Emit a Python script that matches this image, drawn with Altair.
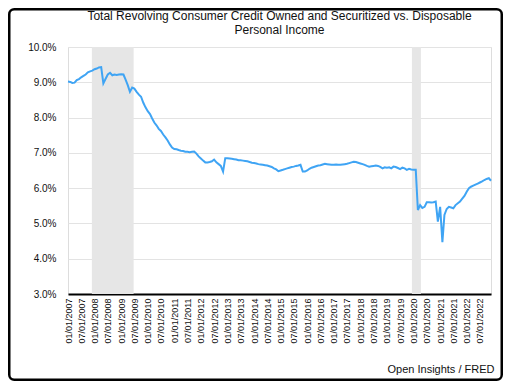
import altair as alt
import pandas as pd

# Ratio (%) of revolving consumer credit to disposable personal income, monthly
v2007 = [9.02, 9.01, 8.98, 8.99, 9.06, 9.09, 9.14, 9.18, 9.22, 9.28, 9.31, 9.33]
v2008 = [9.37, 9.39, 9.42, 9.43, 8.97, 9.10, 9.22, 9.27, 9.20, 9.22, 9.21, 9.22]
v2009 = [9.23, 9.22, 9.08, 8.92, 8.73, 8.85, 8.82, 8.73, 8.65, 8.59, 8.42, 8.29]
v2010 = [8.18, 8.10, 7.98, 7.86, 7.78, 7.68, 7.62, 7.52, 7.44, 7.35, 7.24, 7.15]
v2011 = [7.11, 7.10, 7.08, 7.06, 7.05, 7.03, 7.03, 7.02, 7.03, 7.04, 6.98, 6.90]
v2012 = [6.84, 6.78, 6.73, 6.73, 6.74, 6.76, 6.81, 6.73, 6.68, 6.63, 6.47, 6.85]
v2013 = [6.85, 6.84, 6.83, 6.82, 6.81, 6.79, 6.79, 6.78, 6.77, 6.76, 6.74, 6.72]
v2014 = [6.71, 6.70, 6.68, 6.67, 6.66, 6.65, 6.64, 6.62, 6.60, 6.56, 6.53, 6.48]
v2015 = [6.50, 6.52, 6.54, 6.56, 6.58, 6.60, 6.61, 6.63, 6.64, 6.66, 6.47, 6.47]
v2016 = [6.50, 6.55, 6.58, 6.60, 6.62, 6.64, 6.65, 6.67, 6.69, 6.68, 6.67, 6.66]
v2017 = [6.66, 6.67, 6.66, 6.66, 6.67, 6.68, 6.69, 6.71, 6.73, 6.75, 6.74, 6.72]
v2018 = [6.70, 6.68, 6.66, 6.63, 6.61, 6.62, 6.63, 6.64, 6.63, 6.60, 6.56, 6.59]
v2019 = [6.58, 6.59, 6.56, 6.61, 6.60, 6.57, 6.54, 6.58, 6.56, 6.52, 6.55, 6.53]
v2020 = [6.52, 6.52, 5.38, 5.52, 5.44, 5.47, 5.60, 5.60, 5.59, 5.60, 5.62, 5.05]
v2021 = [5.47, 4.47, 5.24, 5.41, 5.47, 5.45, 5.43, 5.52, 5.57, 5.62, 5.70, 5.78]
v2022 = [5.90, 6.00, 6.04, 6.07, 6.10, 6.13, 6.16, 6.19, 6.23, 6.26, 6.28, 6.21]

years = [v2007, v2008, v2009, v2010, v2011, v2012, v2013, v2014,
         v2015, v2016, v2017, v2018, v2019, v2020, v2021, v2022]
values = [v for yr in years for v in yr]
dates = pd.date_range("2007-01-01", periods=len(values), freq="MS").strftime("%Y-%m-%d")

# Recession shading periods (as drawn)
rec_start = ["2007-11-25", "2019-12-10"]
rec_end = ["2009-06-21", "2020-04-12"]

# Tick labels every six months
tick_years = list(range(2007, 2023))
tick_months = [1, 7]

df = pd.DataFrame({"date": dates, "value": values})
rec = pd.DataFrame({"start": rec_start, "end": rec_end})

FONT = "Liberation Sans"
W, H = 423, 247

tick_values = [alt.DateTime(year=y, month=m, date=1, utc=True)
               for y in tick_years for m in tick_months]
x_scale = alt.Scale(type="utc",
                    domain=[alt.DateTime(year=2007, month=1, date=1, utc=True),
                            alt.DateTime(year=2022, month=12, date=1, utc=True)])

x_axis = alt.Axis(values=tick_values,
                  labelExpr="utcFormat(datum.value, '%m/%d/%Y')",
                  labelAngle=270, labelFontSize=9, labelPadding=4,
                  labelColor="#111", labelFont=FONT, labelOverlap=False,
                  grid=False, ticks=False, domain=True, domainColor="black",
                  domainWidth=2,
                  title="Open Insights / FRED", titleFont=FONT, titleFontSize=11,
                  titleFontWeight="normal", titleColor="#111",
                  titleAlign="right", titleBaseline="alphabetic",
                  titleX=W + 3, titleY=78)

y_axis = alt.Axis(values=[3, 4, 5, 6, 7, 8, 9, 10],
                  labelExpr="format(datum.value, '.1f') + '%'",
                  labelFontSize=10, labelFont=FONT, labelColor="#111",
                  labelPadding=12, ticks=False, tickSize=0, domain=False,
                  grid=True, gridColor="#e3e3e3", gridWidth=1, title=None)

shade = alt.Chart(rec).mark_rect(color="#e6e6e6").encode(
    x=alt.X("start:T", scale=x_scale, axis=x_axis),
    x2="end:T",
)

line = alt.Chart(df).mark_line(color="#3fa4f4", strokeWidth=2).encode(
    x=alt.X("date:T", scale=x_scale, axis=x_axis),
    y=alt.Y("value:Q", scale=alt.Scale(domain=[3, 10], nice=False, zero=False),
            axis=y_axis),
)

frame = alt.Chart(pd.DataFrame({"f": [0]})).mark_rect(
    filled=False, stroke="black", strokeWidth=2.5, cornerRadius=5
).encode(
    x=alt.value(-58.75), x2=alt.value(433.75),
    y=alt.value(-37.75), y2=alt.value(332.75),
)

chart = alt.layer(shade, line, frame).properties(
    width=W, height=H,
    autosize=alt.AutoSizeParams(type="none"),
    padding={"left": 60, "top": 39, "right": 12, "bottom": 87},
    title=alt.Title(
        ["Total Revolving Consumer Credit Owned and Securitized vs. Disposable",
         "Personal Income"],
        font=FONT, fontSize=12, fontWeight="normal", color="#111",
        anchor="middle", frame="group", offset=-29, lineHeight=14,
    ),
).configure_view(stroke=None).configure(font=FONT)

chart.save("out.html", embed_options={"renderer": "svg", "actions": False})
